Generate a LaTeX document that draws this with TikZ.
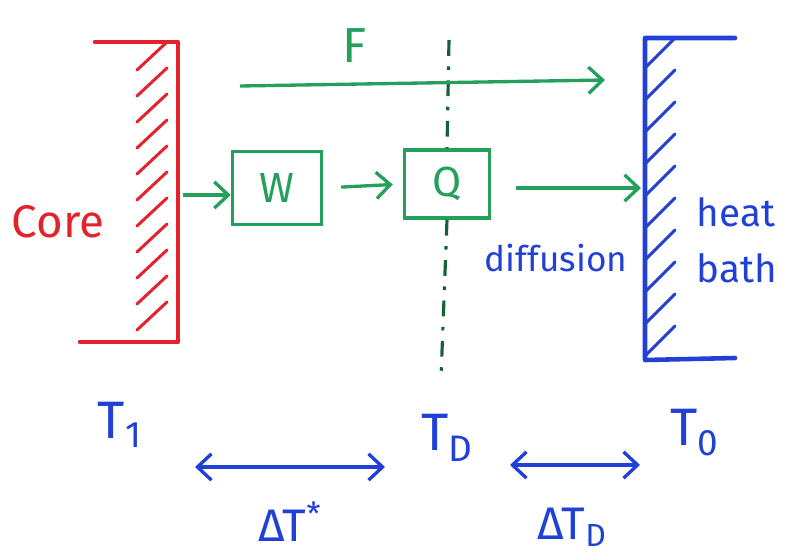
\documentclass[tikz,border=0pt]{standalone}
\usepackage{fontspec}
\setmainfont{Fira Sans}
\usetikzlibrary{arrows.meta,positioning}
\definecolor{CoreRed}{HTML}{E3232C}
\definecolor{FlowGreen}{HTML}{24A05C}
\definecolor{BathBlue}{HTML}{2140D6}
\tikzset{
  wall/.style={line width=2.6pt,line cap=round,line join=round},
  hatch/.style={line width=1.7pt,line cap=round},
  barb/.tip={Straight Barb[length=8pt,width=15pt,line width=1.9pt]},
  flow/.style={-barb,line width=1.9pt,FlowGreen},
  gap/.style={barb-barb,line width=2pt,BathBlue},
  gbox/.style={rectangle,draw=FlowGreen,line width=2pt,fill=white,
               text=FlowGreen,font=\fontsize{24}{26}\selectfont},
  cut/.style={FlowGreen!60!black,line width=1.8pt,
              dash pattern=on 9pt off 6pt on 2pt off 6pt},
  tlbl/.style={text=BathBlue,font=\fontsize{30}{32}\selectfont}
}
\begin{document}
\begin{tikzpicture}[x=0.02cm,y=-0.02cm]
  \useasboundingbox (0,0) rectangle (797,560);

  % core wall
  \draw[wall,CoreRed] (95,42) -- (178,42) -- (178,342) -- (80,342);
  \foreach \y in {70,96,...,330}
    \draw[hatch,CoreRed] (137,\y) -- (167,\y-28);
  \node[text=CoreRed,font=\fontsize{26}{28}\selectfont] (core) at (58,222) {Core};
  \coordinate (coreR) at (183,195);

  % heat bath wall
  \draw[wall,BathBlue] (735,38) -- (645,38) -- (645,360) -- (735,358);
  \foreach \y in {68,100,...,356}
    \draw[hatch,BathBlue] (645,\y) -- (675,\y-30);
  \coordinate (bathL) at (641,188);
  \node[text=BathBlue,align=left,font=\fontsize{22}{32}\selectfont] (bath) at (737,240) {heat\\bath};
  \node[text=BathBlue,font=\fontsize{20}{22}\selectfont] (diff) at (556,258) {diffusion};

  % boxes
  \node[gbox,minimum width=1.78cm,minimum height=1.46cm] (W) at (277,188) {W};
  \node[gbox,minimum width=1.70cm,minimum height=1.36cm] (Q) at (447,184) {Q};

  % boundary
  \coordinate (Dtop) at (449,40);
  \coordinate (Dbot) at (441,378);
  \draw[cut] (Dtop) -- (Q.north);
  \draw[cut] (Q.south) -- (Dbot);

  % flows
  \draw[flow] (coreR) -- (coreR -| W.west);
  \draw[flow,shorten <=0.36cm,shorten >=0.2cm] (W.east) -- (Q.west);
  \draw[flow,shorten <=0.5cm] (Q.east |- bathL) -- (bathL);
  \coordinate (Fs) at (240,86);
  \coordinate (Fe) at (605,80);
  \draw[flow] (Fs) -- (Fe);
  \node[text=FlowGreen,font=\fontsize{28}{30}\selectfont] (F) at (355,46) {F};

  % temperatures
  \node[tlbl] (T1) at (120,425) {T\textsubscript{1}};
  \node[tlbl] (TD) at (447,438) {T\textsubscript{D}};
  \node[tlbl] (T0) at (695,433) {T\textsubscript{0}};
  \coordinate (aL) at (195,467);
  \coordinate (aR) at (385,467);
  \coordinate (bL) at (510,465);
  \coordinate (bR) at (640,465);
  \draw[gap] (aL) -- (aR);
  \draw[gap] (bL) -- (bR);
  \node[tlbl,font=\fontsize{26}{28}\selectfont] (dTs) at (290,522) {ΔT\textsuperscript{*}};
  \node[tlbl,font=\fontsize{26}{28}\selectfont] (dTD) at (572,527) {ΔT\textsubscript{D}};
\end{tikzpicture}
\end{document}
